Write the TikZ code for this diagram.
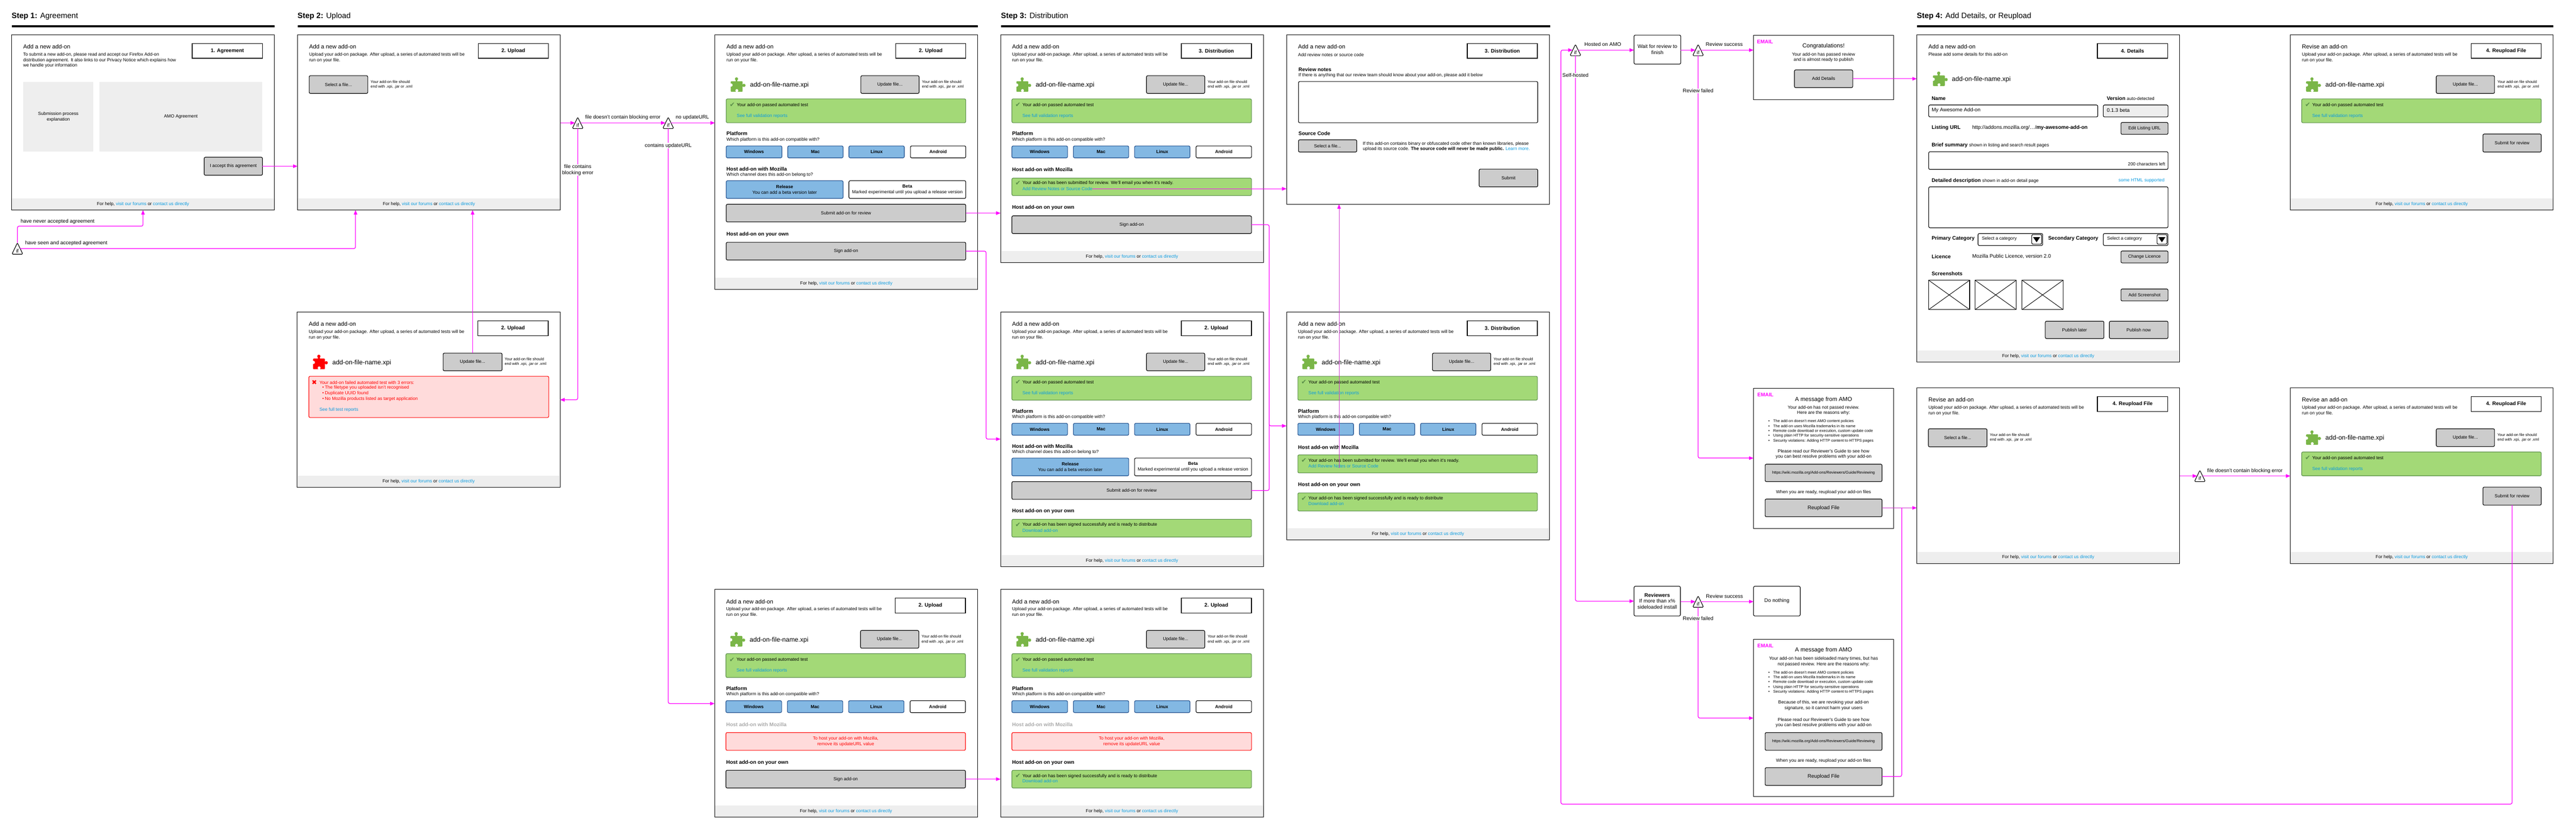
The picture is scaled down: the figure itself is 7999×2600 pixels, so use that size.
\documentclass[tikz,border=0pt]{standalone}
\usepackage{fontspec}
\setmainfont{Liberation Sans}
\newfontfamily\dejavu{DejaVu Sans}
\usetikzlibrary{arrows.meta,shapes.geometric}
\definecolor{mag}{HTML}{FF00FF}
\definecolor{lnk}{HTML}{0A9BE0}
\definecolor{btngray}{HTML}{CCCCCC}
\definecolor{footgray}{HTML}{EEEEEE}
\definecolor{okfill}{HTML}{A3D977}
\definecolor{okline}{HTML}{5B8F4A}
\definecolor{pgreen}{HTML}{7AB648}
\definecolor{bluefill}{HTML}{83B8E3}
\definecolor{blueline}{HTML}{1F4E8C}
\definecolor{redfill}{HTML}{FFDBDB}
\definecolor{fadetext}{HTML}{AAAAAA}
\tikzset{
  every node/.style={inner sep=0pt,outer sep=0pt},
  f12/.style={font=\fontsize{12}{15}\selectfont},
  fa/.style={font=\fontsize{14}{17}\selectfont},
  fab/.style={font=\fontsize{14}{17}\selectfont\bfseries},
  f16/.style={font=\fontsize{16}{19}\selectfont},
  f16b/.style={font=\fontsize{16}{19}\selectfont\bfseries},
  f18/.style={font=\fontsize{18}{22}\selectfont},
  f20/.style={font=\fontsize{20}{24}\selectfont},
  f24/.style={font=\fontsize{24}{28}\selectfont},
  scr/.style={draw=black,fill=white,line width=1.6pt},
  foot/.style={fill=footgray,fa,align=center},
  lblbox/.style={draw=black,fill=white,line width=2.2pt,f16b,align=center},
  btn/.style={draw=black,fill=btngray,line width=1.8pt,rounded corners=4pt,align=center},
  blueb/.style={draw=blueline,fill=bluefill,line width=1.8pt,rounded corners=4pt,align=center},
  whiteb/.style={draw=black,fill=white,line width=1.8pt,rounded corners=4pt,align=center},
  inputb/.style={draw=black,fill=white,line width=1.8pt,rounded corners=4pt},
  roinput/.style={draw=black,fill=footgray,line width=1.8pt,rounded corners=4pt},
  graybx/.style={fill=footgray,align=center},
  okb/.style={draw=okline,fill=okfill,line width=1.8pt,rounded corners=4pt},
  errb/.style={draw=red,fill=redfill,line width=1.8pt,rounded corners=4pt,align=center},
  shot/.style={draw=black,fill=white,line width=1.8pt},
  iftri/.style={draw=black,fill=white,line width=1.8pt,isosceles triangle,isosceles triangle apex angle=52,
     isosceles triangle stretches,shape border rotate=90,minimum width=34pt,minimum height=35pt,
     rounded corners=3pt,f16,anchor=apex},
  flow/.style={draw=mag,line width=2pt,rounded corners=5pt,-{Triangle[length=14pt,width=11pt]}},
  flowtwo/.style={draw=mag,line width=2pt,rounded corners=5pt},
  flowthin/.style={draw=mag!60!gray,line width=1.4pt,-{Triangle[length=14pt,width=11pt,color=mag]}},
  clab/.style={fill=white,f16,align=center,inner sep=1pt},
  plainlab/.style={f16,align=center},
}
\newcommand\bx[7]{\node[#2,minimum width={(#5)-(#3)},minimum height={(#6)-(#4)}] (#1) at ({(#3)/2+(#5)/2},{(#4)/2+(#6)/2}) {#7};}
\newcommand\tx[5]{\node[anchor=west,align=left,#2] (#1) at (#3,#4) {#5};}
\newcommand\ct[5]{\node[align=center,#2] (#1) at (#3,#4) {#5};}
\newcommand\lk[1]{\textcolor{lnk}{#1}}
\newcommand\puzzle[3]{%
  \begin{scope}[shift={(#2,#3)}]
    \fill[#1,rounded corners=2pt] (0,12) rectangle (37,45);
    \fill[#1] (18,5) circle (5);
    \fill[#1] (15,7) rectangle (21,14);
    \fill[#1] (41,25) circle (5);
    \fill[#1] (35,22) rectangle (41,28);
    \fill[white] (1,24) circle (5);
    \fill[white] (19,41) circle (4.5);
    \fill[white] (16.5,40) rectangle (21.5,46);
  \end{scope}}
\newcommand\screen[8]{% id x y h title desc descy label
  \bx{#1}{scr}{0}{0}{816}{#4}{}
  \tx{#1-title}{f18}{36}{37}{#5}
  \tx{#1-desc}{fa}{36}{#7}{#6}
  \bx{#1-lab}{lblbox}{561}{27}{779}{73}{#8}}
\newcommand\footer[2]{\bx{#1-foot}{foot}{1}{(#2)-36}{815}{(#2)-1}{For help, \lk{visit our forums} or \lk{contact us directly}}}
\newcommand\uptext{Upload your add-on package. After upload, a series of automated tests will be\\run on your file.}
\newcommand\okbox[7]{%
  \bx{#1}{okb}{35}{#2}{779}{#3}{}
  \ct{#1-c}{font=\fontsize{20}{22}\dejavu,text=okline}{54}{#4}{✔}
  \tx{#1-t}{fa}{68}{#4}{#6}
  \tx{#1-l}{fa,text=lnk}{68}{#5}{#7}}
\newcommand\filerow[1]{%
  \puzzle{pgreen}{49}{132}
  \tx{#1-name}{f20}{109}{157}{add-on-file-name.xpi}
  \bx{#1-upd}{btn,fa}{453}{127}{634}{182}{Update file...}
  \tx{#1-hint}{f12}{643}{154.5}{Your add-on file should\\end with .xpi, .jar or .xml}}
\newcommand\passed[1]{\okbox{#1-pass}{199}{273}{218}{252}{Your add-on passed automated test}{See full validation reports}}
\newcommand\platform[1]{%
  \tx{#1-ph}{f16b}{36}{307}{Platform}
  \tx{#1-pq}{fa}{36}{325.5}{Which platform is this add-on compatible with?}
  \bx{#1-win}{blueb,fab}{35}{345}{208}{382}{Windows}
  \bx{#1-mac}{blueb,fab}{226}{345}{398}{382}{Mac}
  \bx{#1-lin}{blueb,fab}{416}{345}{588}{382}{Linux}
  \bx{#1-and}{whiteb,fab}{607}{345}{779}{382}{Android}}
\newcommand\channel[1]{%
  \tx{#1-hm}{f16b}{36}{416}{Host add-on with Mozilla}
  \tx{#1-hq}{fa}{36}{434}{Which channel does this add-on belong to?}
  \bx{#1-rel}{blueb,fa}{35}{453}{398}{508}{\textbf{Release}\\You can add a beta version later}
  \bx{#1-bet}{whiteb,fa}{416}{453}{779}{508}{\textbf{Beta}\\Marked experimental until you upload a release version}
  \bx{#1-sub}{btn,fa}{35}{526}{779}{581}{Submit add-on for review}}
\newcommand\emailbullets[2]{\tx{#1}{f12}{46}{#2}{•\hspace{11pt}The add-on doesn't meet AMO content policies\\•\hspace{11pt}The add-on uses Mozilla trademarks in its name\\•\hspace{11pt}Remote code download or execution, custom update code\\•\hspace{11pt}Using plain HTTP for security-sensitive operations\\•\hspace{11pt}Security violations: Adding HTTP content to HTTPS pages}}
\begin{document}
\begin{tikzpicture}[x=1pt,y=-1pt]
\useasboundingbox (0,0) rectangle (7999,2600);
\fill[white] (0,0) rectangle (7999,2600);

% section heads
\tx{h1}{f24}{36}{51}{\textbf{Step 1:} Agreement}
\tx{h2}{f24}{924}{51}{\textbf{Step 2:} Upload}
\tx{h3}{f24}{3108}{51}{\textbf{Step 3:} Distribution}
\tx{h4}{f24}{5952}{51}{\textbf{Step 4:} Add Details, or Reupload}
\fill[black] (36,78) rectangle (852,85);
\fill[black] (924,78) rectangle (3037,85);
\fill[black] (3108,78) rectangle (4813,85);
\fill[black] (5952,78) rectangle (7928,85);

% S1
\begin{scope}[shift={(36,108)}]
\screen{s1}{36}{108}{544}{Add a new add-on}{To submit a new add-on, please read and accept our Firefox Add-on\\distribution agreement. It also links to our Privacy Notice which explains how\\we handle your information}{79}{1. Agreement}
\bx{s1-exp}{graybx,fa}{36}{146}{254}{363}{Submission process\\explanation}
\bx{s1-amo}{graybx,fa}{272}{146}{779}{363}{AMO Agreement}
\bx{s1-accept}{btn,fa}{598}{380}{779}{436}{I accept this agreement}
\footer{s1}{544}
\end{scope}

% S2a
\begin{scope}[shift={(924,108)}]
\screen{s2a}{924}{108}{544}{Add a new add-on}{\uptext}{70.5}{2. Upload}
\bx{s2a-sel}{btn,fa}{36}{127}{218}{182}{Select a file...}
\tx{s2a-hint}{f12}{227}{154}{Your add-on file should\\end with .xpi, .jar or .xml}
\footer{s2a}{544}
\end{scope}

% S2b
\begin{scope}[shift={(923,969)}]
\screen{s2b}{923}{969}{544}{Add a new add-on}{\uptext}{70.5}{2. Upload}
\puzzle{red}{49}{132}
\tx{s2b-name}{f20}{109}{157}{add-on-file-name.xpi}
\bx{s2b-upd}{btn,fa}{453}{127}{636}{182}{Update file...}
\tx{s2b-hint}{f12}{644}{154}{Your add-on file should\\end with .xpi, .jar or .xml}
\bx{s2b-err}{errb}{36}{199}{781}{327}{}
\ct{s2b-x}{font=\fontsize{20}{22}\dejavu,text=red}{53}{219}{✖}
\tx{s2b-e0}{fa,text=red}{69}{218}{Your add-on failed automated test with 3 errors:}
\tx{s2b-e1}{fa,text=red}{78}{252}{•\hspace{3pt}The filetype you uploaded isn't recognised\\•\hspace{3pt}Duplicate UUID found\\•\hspace{3pt}No Mozilla products listed as target application}
\tx{s2b-l}{fa,text=lnk}{69}{303}{See full test reports}
\footer{s2b}{544}
\end{scope}

% S3
\begin{scope}[shift={(2220,108)}]
\screen{s3}{2220}{108}{790}{Add a new add-on}{\uptext}{70.5}{2. Upload}
\filerow{s3}\passed{s3}\platform{s3}\channel{s3}
\tx{s3-ho}{f16b}{36}{619}{Host add-on on your own}
\bx{s3-sign}{btn,fa}{35}{644}{779}{699}{Sign add-on}
\footer{s3}{790}
\end{scope}

% S4
\begin{scope}[shift={(3107,108)}]
\screen{s4}{3107}{108}{707}{Add a new add-on}{\uptext}{70.5}{3. Distribution}
\filerow{s4}\passed{s4}\platform{s4}
\tx{s4-hm}{f16b}{36}{419}{Host add-on with Mozilla}
\okbox{s4-ok}{445}{499}{461}{478}{Your add-on has been submitted for review. We'll email you when it's ready.}{Add Review Notes or Source Code}
\tx{s4-ho}{f16b}{36}{537}{Host add-on on your own}
\bx{s4-sign}{btn,fa}{35}{562}{779}{617}{Sign add-on}
\footer{s4}{707}
\end{scope}

% S5
\begin{scope}[shift={(3995,108)}]
\screen{s5}{3995}{108}{526}{Add a new add-on}{Add review notes or source code}{62}{3. Distribution}
\tx{s5-rn}{f16b}{37}{108}{Review notes}
\tx{s5-rq}{fa}{37}{126}{If there is anything that our review team should know about your add-on, please add it below}
\bx{s5-area}{inputb}{37}{145}{780}{273}{}
\tx{s5-sc}{f16b}{37}{307}{Source Code}
\bx{s5-sel}{btn,fa}{37}{326}{218}{364}{Select a file...}
\tx{s5-st}{fa}{237}{346.5}{If this add-on contains binary or obfuscated code other than known libraries, please\\upload its source code. \textbf{The source code will never be made public.} \lk{Learn more.}}
\bx{s5-sub}{btn,fa}{598}{417}{780}{472}{Submit}
\end{scope}

% S6
\begin{scope}[shift={(3107,969)}]
\screen{s6}{3107}{969}{790}{Add a new add-on}{\uptext}{70.5}{2. Upload}
\filerow{s6}\passed{s6}\platform{s6}\channel{s6}
\tx{s6-ho}{f16b}{36}{618}{Host add-on on your own}
\okbox{s6-ok}{643}{698}{660}{677}{Your add-on has been signed successfully and is ready to distribute}{Download add-on}
\footer{s6}{790}
\end{scope}

% S7
\begin{scope}[shift={(3995,969)}]
\screen{s7}{3995}{969}{707}{Add a new add-on}{\uptext}{70.5}{3. Distribution}
\filerow{s7}\passed{s7}\platform{s7}
\tx{s7-hm}{f16b}{36}{419}{Host add-on with Mozilla}
\okbox{s7-ok}{443}{499}{461}{478}{Your add-on has been submitted for review. We'll email you when it's ready.}{Add Review Notes or Source Code}
\tx{s7-ho}{f16b}{36}{537}{Host add-on on your own}
\okbox{s7-ok2}{561}{617}{579}{595}{Your add-on has been signed successfully and is ready to distribute}{Download add-on}
\footer{s7}{707}
\end{scope}

% S8
\begin{scope}[shift={(2219,1830)}]
\screen{s8}{2219}{1830}{707}{Add a new add-on}{\uptext}{70.5}{2. Upload}
\filerow{s8}\passed{s8}\platform{s8}
\tx{s8-hm}{f16b,text=fadetext}{36}{419}{Host add-on with Mozilla}
\bx{s8-err}{errb,fa,text=red}{35}{444}{779}{499}{To host your add-on with Mozilla,\\remove its updateURL value}
\tx{s8-ho}{f16b}{36}{537}{Host add-on on your own}
\bx{s8-sign}{btn,fa}{35}{561}{779}{616}{Sign add-on}
\footer{s8}{707}
\end{scope}

% S9
\begin{scope}[shift={(3107,1830)}]
\screen{s9}{3107}{1830}{707}{Add a new add-on}{\uptext}{70.5}{2. Upload}
\filerow{s9}\passed{s9}\platform{s9}
\tx{s9-hm}{f16b,text=fadetext}{36}{419}{Host add-on with Mozilla}
\bx{s9-err}{errb,fa,text=red}{35}{444}{779}{499}{To host your add-on with Mozilla,\\remove its updateURL value}
\tx{s9-ho}{f16b}{36}{537}{Host add-on on your own}
\okbox{s9-ok}{561}{616}{579}{595}{Your add-on has been signed successfully and is ready to distribute}{Download add-on}
\footer{s9}{707}
\end{scope}

% Details
\begin{scope}[shift={(5952,108)}]
\screen{dt}{5952}{108}{1016}{Add a new add-on}{Please add some details for this add-on}{61}{4. Details}
\footer{dt}{1016}
\end{scope}
\puzzle{pgreen}{6002}{222}
\tx{dt-name}{f20}{6061}{247}{add-on-file-name.xpi}
\tx{dt-n}{f16b}{5998}{306}{Name}
\tx{dt-v}{f16}{6542}{306}{\textbf{Version} {\fontsize{14}{17}\selectfont auto-detected}}
\bx{dt-ni}{inputb}{5989}{326}{6514}{363}{}
\tx{dt-nt}{f16}{5998}{343}{My Awesome Add-on}
\bx{dt-vi}{roinput}{6531}{326}{6732}{363}{}
\tx{dt-vt}{f16}{6542}{343}{0.1.3 beta}
\tx{dt-u}{f16b}{5998}{397}{Listing URL}
\tx{dt-ut}{f16}{6124}{397}{http://addons.mozilla.org/…/\textbf{my-awesome-add-on}}
\bx{dt-ub}{btn,fa}{6586}{380}{6732}{417}{Edit Listing URL}
\tx{dt-b}{f16}{5998}{451}{\textbf{Brief summary} {\fontsize{14}{17}\selectfont shown in listing and search result pages}}
\bx{dt-bi}{inputb}{5989}{471}{6732}{526}{}
\node[anchor=east,fa] (dt-bc) at (6723,510) {200 characters left};
\tx{dt-d}{f16}{5998}{561}{\textbf{Detailed description} {\fontsize{14}{17}\selectfont shown in add-on detail page}}
\node[anchor=east,fa,text=lnk] (dt-dh) at (6721,561) {some HTML supported};
\bx{dt-di}{inputb}{5989}{580}{6732}{707}{}
\tx{dt-p}{f16b}{5998}{741}{Primary Category}
\bx{dt-ps}{inputb}{6142}{725}{6343}{762}{}
\tx{dt-pt}{fa}{6154}{741}{Select a category}
\bx{dt-pd}{inputb}{6309}{728}{6340}{758}{}
\fill[black] (6313,736) -- (6335,736) -- (6324,752) -- cycle;
\tx{dt-s}{f16b}{6360}{741}{Secondary Category}
\bx{dt-ss}{inputb}{6531}{725}{6732}{762}{}
\tx{dt-st}{fa}{6543}{741}{Select a category}
\bx{dt-sd}{inputb}{6698}{728}{6729}{758}{}
\fill[black] (6702,736) -- (6724,736) -- (6713,752) -- cycle;
\tx{dt-l}{f16b}{5998}{796}{Licence}
\tx{dt-lt}{f16}{6124}{796}{Mozilla Public Licence, version 2.0}
\bx{dt-lb}{btn,fa}{6586}{779}{6732}{816}{Change Licence}
\tx{dt-sh}{f16b}{5998}{850}{Screenshots}
\bx{dt-sh1}{shot}{5989}{870}{6116}{961}{}
\bx{dt-sh2}{shot}{6133}{870}{6261}{961}{}
\bx{dt-sh3}{shot}{6279}{870}{6406}{961}{}
\draw[line width=1.5pt] (dt-sh1.north west) -- (dt-sh1.south east) (dt-sh1.north east) -- (dt-sh1.south west);
\draw[line width=1.5pt] (dt-sh2.north west) -- (dt-sh2.south east) (dt-sh2.north east) -- (dt-sh2.south west);
\draw[line width=1.5pt] (dt-sh3.north west) -- (dt-sh3.south east) (dt-sh3.north east) -- (dt-sh3.south west);
\bx{dt-sb}{btn,fa}{6586}{897}{6732}{934}{Add Screenshot}
\bx{dt-pl}{btn,fa}{6351}{997}{6533}{1051}{Publish later}
\bx{dt-pn}{btn,fa}{6550}{997}{6732}{1051}{Publish now}

% Revise top
\begin{scope}[shift={(7112,108)}]
\screen{rt}{7112}{108}{544}{Revise an add-on}{\uptext}{70.5}{4. Reupload File}
\filerow{rt}\passed{rt}
\bx{rt-sub}{btn,fa}{598}{308}{779}{364}{Submit for review}
\footer{rt}{544}
\end{scope}

% Revise 1
\begin{scope}[shift={(5952,1204)}]
\screen{r1}{5952}{1204}{545}{Revise an add-on}{\uptext}{70.5}{4. Reupload File}
\bx{r1-sel}{btn,fa}{36}{127}{218}{183}{Select a file...}
\tx{r1-hint}{f12}{227}{154.5}{Your add-on file should\\end with .xpi, .jar or .xml}
\footer{r1}{545}
\end{scope}

% Revise 2
\begin{scope}[shift={(7112,1204)}]
\screen{r2}{7112}{1204}{545}{Revise an add-on}{\uptext}{70.5}{4. Reupload File}
\filerow{r2}\passed{r2}
\bx{r2-sub}{btn,fa}{598}{308}{779}{364}{Submit for review}
\footer{r2}{545}
\end{scope}

% Process boxes
\bx{wait}{whiteb,f16}{5074}{109}{5219}{199}{Wait for review to\\finish}
\bx{revs}{whiteb,f16}{5074}{1820}{5218}{1912}{\textbf{Reviewers}\\If more than x\%\\sideloaded install}
\bx{nothing}{whiteb,f16}{5445}{1820}{5590}{1912}{Do nothing}

% Email 1
\begin{scope}[shift={(5445,109)}]
\bx{em1}{scr}{0}{0}{435}{200}{}
\tx{em1-e}{f16b,text=mag}{11}{20}{EMAIL}
\ct{em1-t}{f18}{217.5}{35}{Congratulations!}
\ct{em1-p}{fa}{217.5}{69}{Your add-on has passed review\\and is almost ready to publish}
\bx{em1-add}{btn,fa}{127}{108}{308}{163}{Add Details}
\end{scope}

% Email 2
\begin{scope}[shift={(5445,1205)}]
\bx{em2}{scr}{0}{0}{435}{436}{}
\tx{em2-e}{f16b,text=mag}{12}{20}{EMAIL}
\ct{em2-t}{f18}{217.5}{35}{A message from AMO}
\ct{em2-p}{fa}{217.5}{69}{Your add-on has not passed review.\\Here are the reasons why:}
\emailbullets{em2-b}{133.5}
\ct{em2-g}{fa}{217.5}{205}{Please read our Reviewer's Guide to see how\\you can best resolve problems with your add-on}
\bx{em2-url}{btn,f12}{36}{236}{399}{290}{https://wiki.mozilla.org/Add-ons/Reviewers/Guide/Reviewing}
\ct{em2-w}{fa}{217.5}{323}{When you are ready, reupload your add-on files}
\bx{em2-re}{btn,f16}{36}{344}{399}{399}{Reupload File}
\end{scope}

% Email 3
\begin{scope}[shift={(5445,1985)}]
\bx{em3}{scr}{0}{0}{435}{488}{}
\tx{em3-e}{f16b,text=mag}{12}{19}{EMAIL}
\ct{em3-t}{f18}{217.5}{34}{A message from AMO}
\ct{em3-p}{fa}{217.5}{68.5}{Your add-on has been sideloaded many times, but has\\not passed review. Here are the reasons why:}
\emailbullets{em3-b}{133}
\ct{em3-c}{fa}{217.5}{204.5}{Because of this, we are revoking your add-on\\signature, so it cannot harm your users}
\ct{em3-g}{fa}{217.5}{258.5}{Please read our Reviewer's Guide to see how\\you can best resolve problems with your add-on}
\bx{em3-url}{btn,f12}{36}{289}{399}{344}{https://wiki.mozilla.org/Add-ons/Reviewers/Guide/Reviewing}
\ct{em3-w}{fa}{217.5}{377}{When you are ready, reupload your add-on files}
\bx{em3-re}{btn,f16}{36}{398}{399}{453}{Reupload File}
\end{scope}

% decision triangles
\node[iftri] (if0) at (54,754) {if};
\node[iftri] (if1) at (1794,364) {if};
\node[iftri] (if2) at (2075,364) {if};
\node[iftri] (if3) at (4892,138) {if};
\node[iftri] (if4) at (5273,138) {if};
\node[iftri] (if5) at (5273,1850) {if};
\node[iftri] (if6) at (6831,1460) {if};

% connector helpers
\coordinate (j1) at (54,702);
\coordinate (s2a-in) at (1104,652);
\coordinate (s2b-in) at (1739,1241);
\coordinate (s8-in) at (2219,2184);
\coordinate (j3) at (3062,1000);
\coordinate (s6-in) at (3107,1363);
\coordinate (j4) at (3941,1000);
\coordinate (s7-in) at (3995,1322);
\coordinate (s5-in) at (4158,634);
\coordinate (j5) at (4847,2496);
\coordinate (em2-in) at (5445,1422);
\coordinate (em3-in) at (5445,2229);
\coordinate (j6) at (5905,1576);

% connectors
\draw[flow] (s1-accept.east) -- (s1-accept.east -| s2a.west);
\draw[flow] (if0.apex) -- (j1) -| (s1.south);
\draw[flow] (if0.right side) -| (s2a-in);
\draw[flow] (s2b-upd.north) -- (s2b-upd.north |- s2a.south);
\draw[flow] (if1.left side -| s2a.east) -- (if1.left side);
\draw[flow] (if1.right side) -- (if2.left side);
\draw[flow] (if2.right side) -- (if2.right side -| s3.west);
\draw[flow] (if1.lower side) |- (s2b-in);
\draw[flow] (if2.lower side) |- (s8-in);
\draw[flow] (s3-sub.east) -- (s3-sub.east -| s4.west);
\draw[flow] (s3-sign.east) -| (j3) |- (s6-in);
\draw[flow] (s8-sign.east) -- (s8-sign.east -| s9.west);
\draw[flow] (s4-sign.east) -| (j4) |- (s7-in);
\draw[flowtwo] (s6-sub.east) -| (j4);
\draw[flow] (s4-ok-l.east) -- (s4-ok-l.east -| s5.west);
\draw[flowthin] (s7-ok-l.south -| s5-in) -- (s5-in);
\draw[flow] (r2-sub.south) |- (j5) |- (if3.left side);
\draw[flow] (if3.right side) -- (if3.right side -| wait.west);
\draw[flow] (wait.east |- if4.left side) -- (if4.left side);
\draw[flow] (if4.right side) -- (if4.right side -| em1.west);
\draw[flow] (em1-add.east) -- (em1-add.east -| dt.west);
\draw[flow] (if4.lower side) |- (em2-in);
\draw[flow] (if3.lower side) |- (revs.west);
\draw[flow] (revs.east |- if5.left side) -- (if5.left side);
\draw[flow] (if5.right side) -- (if5.right side -| nothing.west);
\draw[flow] (if5.lower side) |- (em3-in);
\draw[flowthin] (em2-re.east) -- (em2-re.east -| r1.west);
\draw[flowtwo] (em3-re.east) -| (j6);
\draw[flow] (if6.left side -| r1.east) -- (if6.left side);
\draw[flow] (if6.right side) -- (if6.right side -| r2.west);

% connector labels
\tx{l-never}{f16}{64}{687}{have never accepted agreement}
\tx{l-seen}{f16}{78}{755}{have seen and accepted agreement}
\ct{l-nb}{plainlab}{1934}{365}{file doesn't contain blocking error}
\ct{l-nu}{plainlab}{2150}{365}{no updateURL}
\ct{l-cu}{clab}{2075}{452}{contains updateURL}
\ct{l-fc}{clab}{1794}{528}{file contains\\blocking error}
\ct{l-ha}{plainlab}{4977}{138}{Hosted on AMO}
\ct{l-rs}{plainlab}{5354}{138}{Review success}
\ct{l-sh}{clab}{4892}{234}{Self-hosted}
\ct{l-rf}{clab}{5273}{282}{Review failed}
\ct{l-rs2}{plainlab}{5355}{1851}{Review success}
\ct{l-rf2}{clab}{5273}{1920}{Review failed}
\ct{l-nb2}{plainlab}{6971}{1462}{file doesn't contain blocking error}
\end{tikzpicture}
\end{document}
